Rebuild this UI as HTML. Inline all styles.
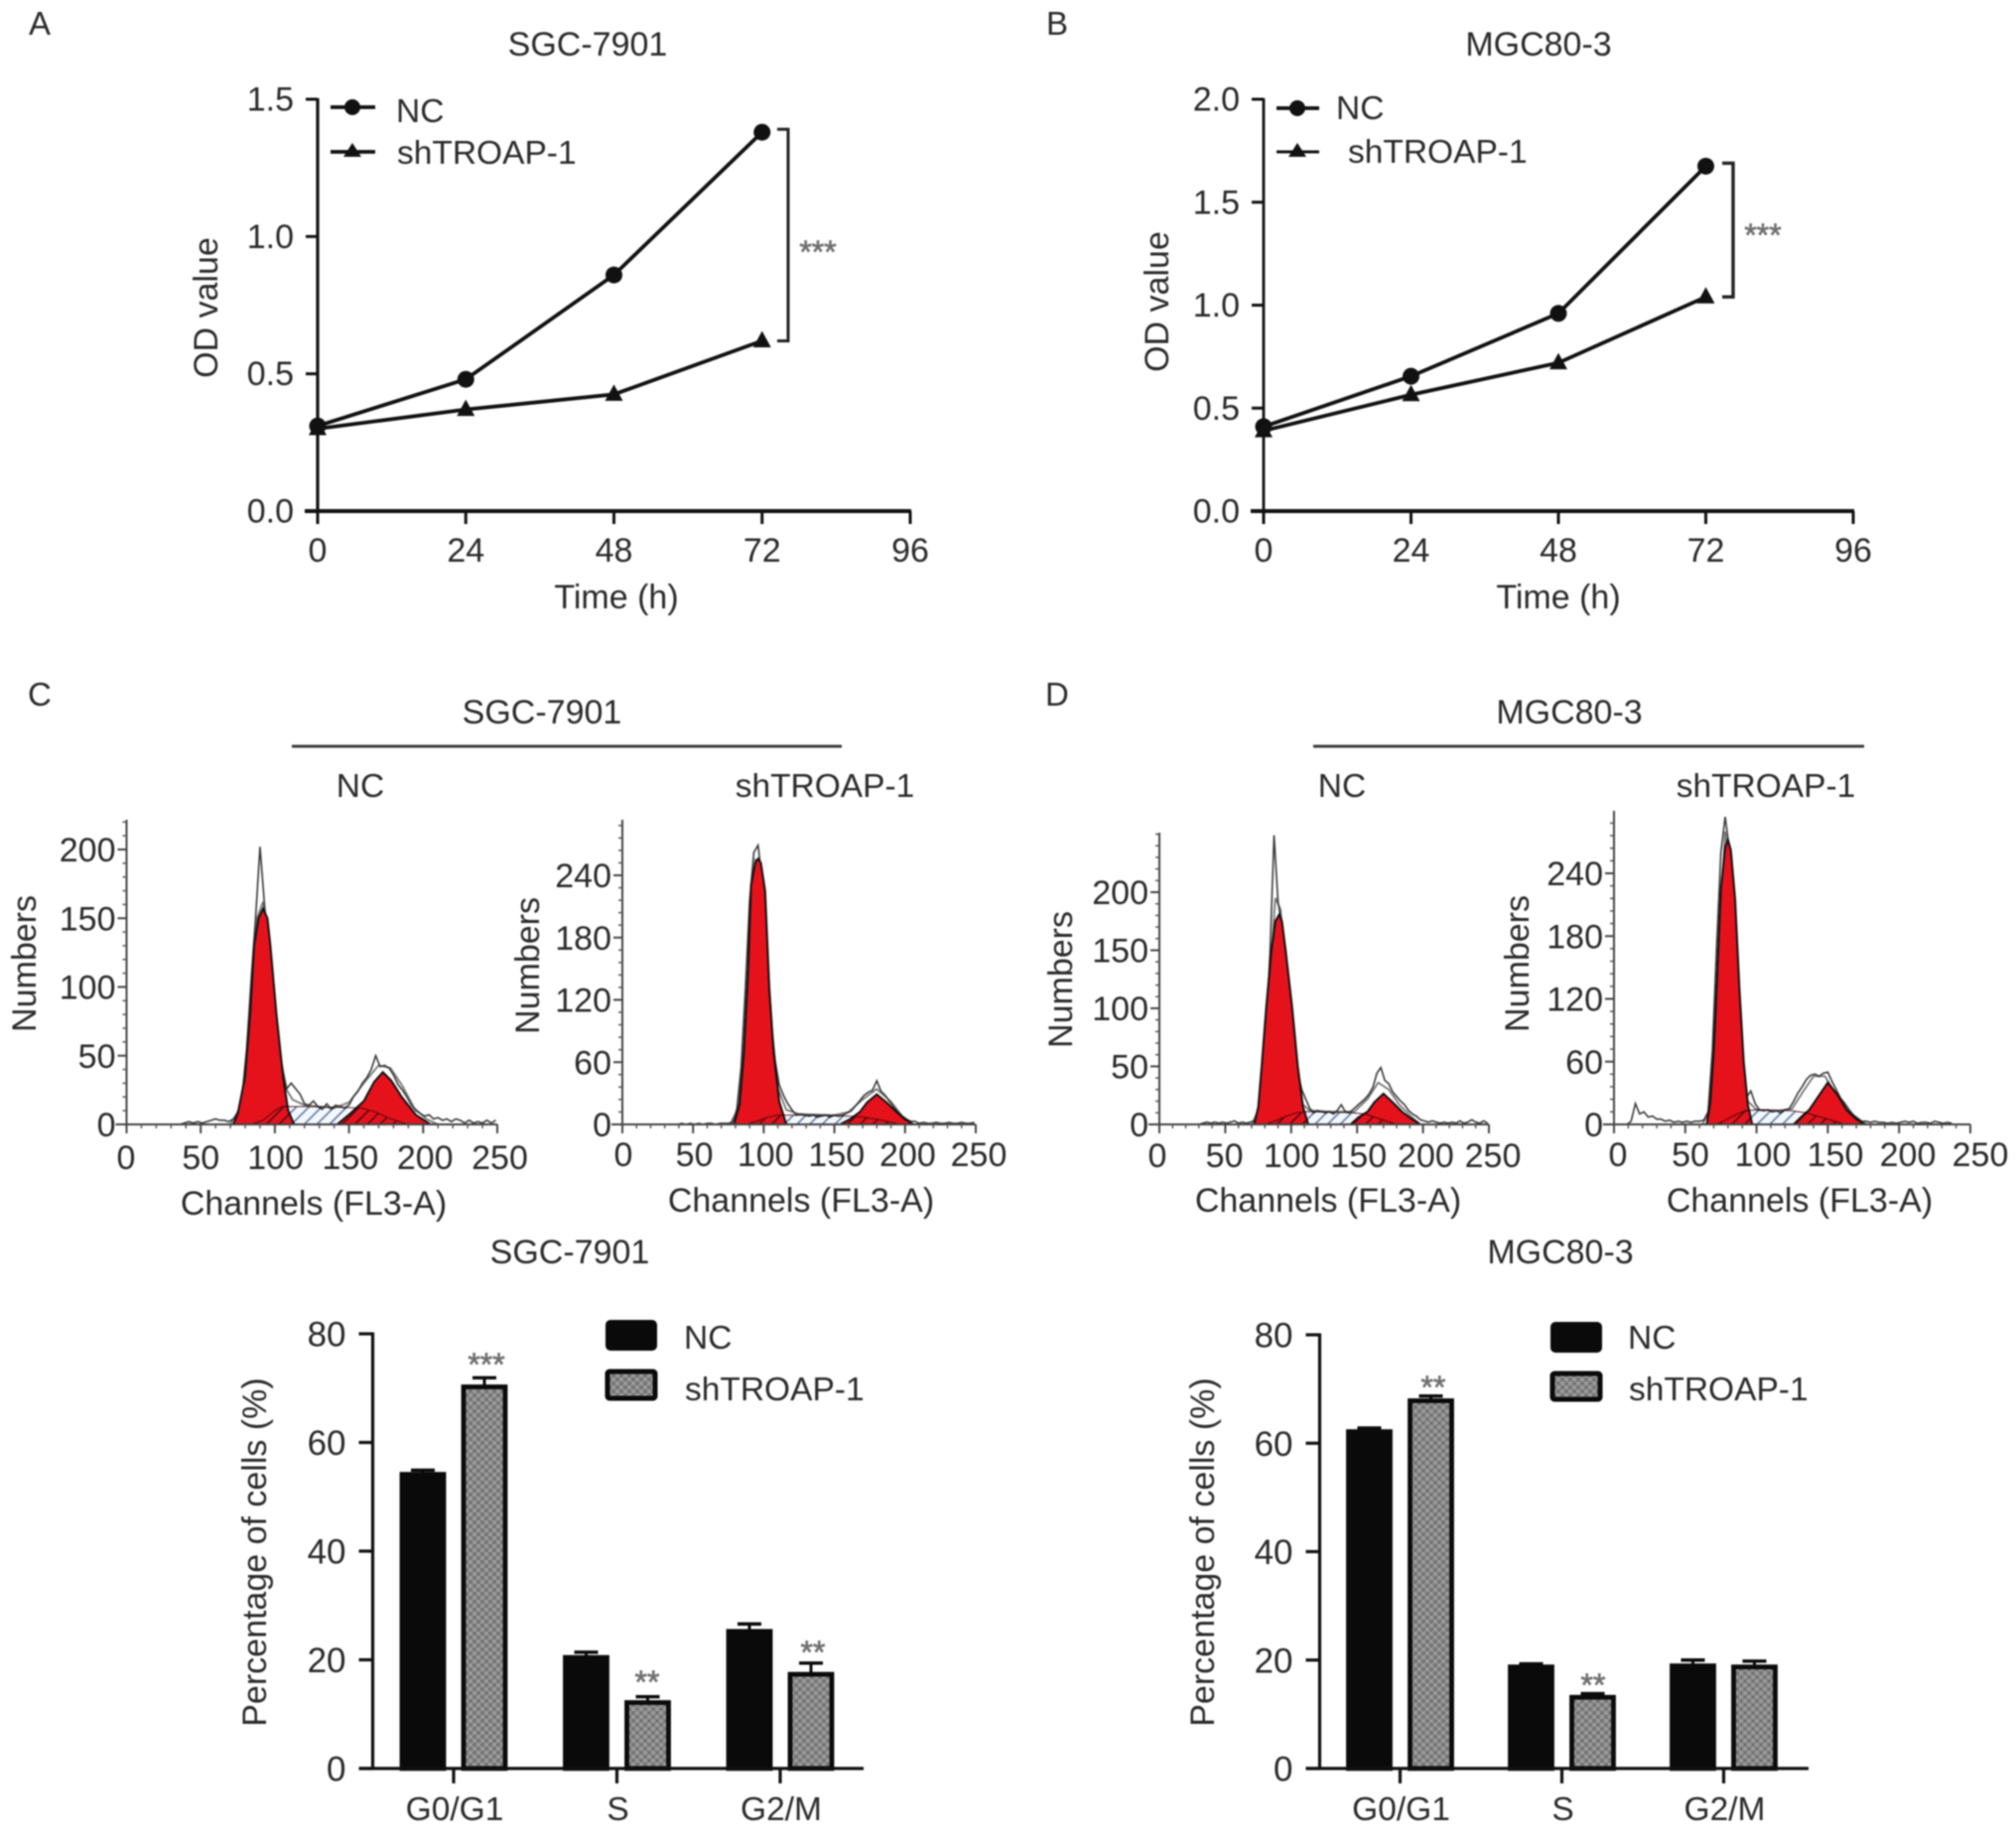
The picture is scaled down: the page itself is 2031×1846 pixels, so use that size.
<!DOCTYPE html>
<html lang="en">
<head>
<meta charset="utf-8">
<title>TROAP knockdown: growth curves and cell cycle</title>
<style>
html,body{margin:0;padding:0;background:#fff;}
#figure{display:block;filter:blur(0.7px);}
text{font-family:"Liberation Sans",sans-serif;fill:#2a2a2a;font-size:33.5px;}
.big{font-size:34px;}
.panel{font-size:33px;}
.stars{fill:#707070;stroke:#707070;stroke-width:0.7;font-size:32px;}
.mid{text-anchor:middle;}
</style>
</head>
<body>
<svg id="figure" xmlns="http://www.w3.org/2000/svg" width="2031" height="1846" viewBox="0 0 2031 1846">
  <defs>
    <pattern id="checker" width="8" height="8" patternUnits="userSpaceOnUse">
      <rect width="8" height="8" fill="#9b9b9b"/>
      <rect width="4" height="4" fill="#757575"/>
      <rect x="4" y="4" width="4" height="4" fill="#757575"/>
    </pattern>
    <pattern id="s-hatch" width="9" height="9" patternUnits="userSpaceOnUse" patternTransform="rotate(-45)">
      <rect x="0" y="0" width="9" height="1.6" fill="#5f7fae"/>
    </pattern>
  </defs>
  <rect width="2031" height="1846" fill="#fff"/>

  <g>
    <text class="panel" x="29" y="35">A</text>
    <text class="panel" x="1054" y="35">B</text>
    <text class="panel" x="28" y="711">C</text>
    <text class="panel" x="1053" y="711">D</text>
  </g>

  <g>
    <text class="big mid" x="592" y="56">SGC-7901</text>
    <text class="big mid" transform="translate(219 310) rotate(-90)">OD value</text>
    <text class="big mid" x="621" y="613">Time (h)</text>
    <line x1="333" y1="108" x2="378" y2="108" stroke="#111" stroke-width="3.8"/>
    <circle cx="355" cy="108" r="8" fill="#111"/>
    <text x="399" y="123">NC</text>
    <line x1="333" y1="153" x2="378" y2="153" stroke="#111" stroke-width="3.8"/>
    <polygon points="355,144 364,158 346,158" fill="#111"/>
    <text x="400" y="165">shTROAP-1</text>
    <text class="stars mid" x="824" y="265">***</text>
  </g>

  <g>
    <text class="big mid" x="1550" y="56">MGC80-3</text>
    <text class="big mid" transform="translate(1177 304) rotate(-90)">OD value</text>
    <text class="big mid" x="1570" y="613">Time (h)</text>
    <line x1="1286" y1="109" x2="1329" y2="109" stroke="#111" stroke-width="3.8"/>
    <circle cx="1307" cy="109" r="8" fill="#111"/>
    <text x="1346" y="120">NC</text>
    <line x1="1286" y1="153" x2="1329" y2="153" stroke="#111" stroke-width="3"/>
    <polygon points="1307,144 1316,158 1298,158" fill="#111"/>
    <text x="1358" y="164">shTROAP-1</text>
    <text class="stars mid" x="1776" y="248">***</text>
  </g>

  <g>
    <text class="big mid" x="546" y="729">SGC-7901</text>
    <line x1="294" y1="752" x2="848" y2="752" stroke="#3c3c3c" stroke-width="3"/>
    <text class="mid" x="363" y="803">NC</text>
    <text class="mid" x="831" y="803">shTROAP-1</text>
    <text class="big mid" transform="translate(36 971) rotate(-90)">Numbers</text>
    <text class="big mid" transform="translate(543 973) rotate(-90)">Numbers</text>
    <text class="big mid" x="316" y="1224">Channels (FL3-A)</text>
    <text class="big mid" x="807" y="1221">Channels (FL3-A)</text>
  </g>

  <g>
    <text class="big mid" x="1581" y="729">MGC80-3</text>
    <line x1="1323" y1="752" x2="1878" y2="752" stroke="#3c3c3c" stroke-width="3"/>
    <text class="mid" x="1352" y="803">NC</text>
    <text class="mid" x="1779" y="803">shTROAP-1</text>
    <text class="big mid" transform="translate(1080 987) rotate(-90)">Numbers</text>
    <text class="big mid" transform="translate(1540 971) rotate(-90)">Numbers</text>
    <text class="big mid" x="1338" y="1221">Channels (FL3-A)</text>
    <text class="big mid" x="1813" y="1221">Channels (FL3-A)</text>
  </g>

  <g>
    <text class="big mid" x="574" y="1273">SGC-7901</text>
    <text class="big mid" transform="translate(268 1564) rotate(-90)">Percentage of cells (%)</text>
    <rect x="612" y="1332" width="48" height="27" rx="3" fill="#0a0a0a" stroke="#0a0a0a" stroke-width="4"/>
    <text x="689" y="1359">NC</text>
    <rect x="612" y="1382" width="48" height="27" rx="2" fill="url(#checker)" stroke="#0a0a0a" stroke-width="5"/>
    <text x="690" y="1411">shTROAP-1</text>
    <text class="stars mid" x="490" y="1386">***</text>
    <text class="stars mid" x="652" y="1706">**</text>
    <text class="stars mid" x="819" y="1676">**</text>
  </g>

  <g>
    <text class="big mid" x="1572" y="1273">MGC80-3</text>
    <text class="big mid" transform="translate(1223 1564) rotate(-90)">Percentage of cells (%)</text>
    <rect x="1564" y="1334" width="48" height="27" rx="3" fill="#0a0a0a" stroke="#0a0a0a" stroke-width="4"/>
    <text x="1640" y="1359">NC</text>
    <rect x="1564" y="1384" width="48" height="26" rx="2" fill="url(#checker)" stroke="#0a0a0a" stroke-width="5"/>
    <text x="1641" y="1411">shTROAP-1</text>
    <text class="stars mid" x="1444" y="1409">**</text>
    <text class="stars mid" x="1605" y="1709">**</text>
  </g>
</svg>

<script>
// ---- Growth curves (panels A, B) ----
const timePoints = [0, 24, 48, 72];
const timeTicks = [0, 24, 48, 72, 96];
const panelAYTicks = [0, 0.5, 1, 1.5];
const panelBYTicks = [0, 0.5, 1, 1.5, 2];
const panelANc = [0.31, 0.48, 0.86, 1.38];
const panelASh = [0.30, 0.37, 0.425, 0.62];
const panelBNc = [0.41, 0.655, 0.96, 1.675];
const panelBSh = [0.39, 0.565, 0.72, 1.04];

// ---- Cell cycle bars ----
const phaseCategories = ['G0/G1', 'S', 'G2/M'];
const percentTicks = [0, 20, 40, 60, 80];
const sgcNc = [54.5, 20.8, 25.6];
const sgcNcErr = [0.4, 0.6, 1.0];
const sgcSh = [70.6, 12.5, 17.7];
const sgcShErr = [1.3, 0.7, 1.7];
const mgcNc = [62.5, 19.1, 19.3];
const mgcNcErr = [0.3, 0.2, 0.7];
const mgcSh = [68.2, 13.5, 19.1];
const mgcShErr = [0.5, 0.3, 0.7];

// ---- Flow cytometry histograms ----
const channelTicks = [0, 50, 100, 150, 200, 250];
const numbersTicks50 = [0, 50, 100, 150, 200];
const numbersTicks60 = [0, 60, 120, 180, 240];
const traceBinWidth = 3;

// panel C, NC
const c1Trace = [0,0,0,0,0,0,0,0,0,0,0,0,0,1,2,1,2,1,2,3,4,3,3,2,4,8,22,55,105,150,202,160,128,92,66,40,26,30,26,22,15,14,17,13,11,15,11,14,13,12,14,20,24,30,34,40,50,42,43,41,36,29,25,20,14,10,8,6,7,4,5,3,4,2,4,3,1,3,1,2,1,3,1,3];
const c1FitChannels = [70,78,84,88,92,96,100,104,108,112,120,140,150,160,170,178,186,194,202,210];
const c1FitCounts = [0,15,90,150,162,135,88,48,25,18,14,12,16,30,43,41,28,12,4,0];
const c1G1Channels = [72,75,79.8,83.4,86,89,92,95,97,101,105.6,109,113];
const c1G1Counts = [0,8,34,81,130,150,157,150,130,81,34,10,0];
const c1SChannels = [84,92,100,105,120,140,158,168,176,184,190];
const c1SCounts = [0,3,10,13,13,12.5,12,9,5,2,0];
const c1G2Channels = [142,151,160,167,172.8,178.4,185.5,195,205];
const c1G2Counts = [0,8,17,31,38,32,20,7,0];

// panel C, shTROAP-1
const c2Trace = [0,0,0,0,0,0,0,0,0,0,0,0,0,0,1,0,1,0,1,0,1,1,0,1,1,1,2,15,55,130,215,262,269,235,165,100,62,38,28,20,14,9,10,9,8,9,7,8,9,7,9,8,9,11,13,18,23,28,31,33,42,32,28,22,17,12,8,5,3,3,1,2,1,1,2,1,1,2,1,1,2,1,1,2];
const c2FitChannels = [76,82,86,90,94,98,102,106,110,116,125,150,160,170,180,190,198,206];
const c2FitCounts = [0,15,75,170,255,250,175,90,35,14,10,9,12,24,34,22,8,0];
const c2G1Channels = [79,83,86,89,91,94,96,98,101,104,107,111,116];
const c2G1Counts = [0,20,70,150,230,252,256,252,225,130,70,22,0];
const c2SChannels = [88,95,103,110,125,145,160,170,180,190,196];
const c2SCounts = [0,3,7,9,9,8.5,8,7,5,2,0];
const c2G2Channels = [154,161,168,173,180,187,194,200,206];
const c2G2Counts = [0,5,12,21,29,21,12,5,0];

// panel D, NC
const d1Trace = [0,0,0,0,0,0,0,0,0,0,0,1,2,1,2,1,2,1,2,3,1,2,1,2,3,8,30,80,150,249,192,170,125,82,48,45,30,22,14,10,12,11,10,11,9,12,17,11,10,13,16,19,22,26,32,44,49,38,35,28,24,20,17,12,9,7,4,3,2,3,2,1,2,1,2,1,3,1,2,4,2,1,3,1];
const d1FitChannels = [70,76,80,84,88,92,96,100,104,108,114,130,148,158,166,174,182,190,198];
const d1FitCounts = [0,15,60,130,195,185,135,75,35,18,12,11,11,22,36,30,17,8,0];
const d1G1Channels = [72,75,77.6,81,85,88,91,93,95.8,100.8,105,109,113];
const d1G1Counts = [0,15,50,100,150,175,181,175,150,100,50,15,0];
const d1SChannels = [80,88,96,104,112,130,146,156,164,172,180];
const d1SCounts = [0,3,7,10,11,10.5,10,9,6,3,0];
const d1G2Channels = [145,151,158,163,170,177,184,191,198];
const d1G2Counts = [0,6,11,19,26.5,19,11,5,0];

// panel D, shTROAP-1
const d2Trace = [0,0,0,0,3,20,10,12,7,8,5,5,3,4,2,3,2,3,2,3,3,4,12,70,170,260,294,262,185,105,50,26,32,20,14,13,14,12,13,11,14,15,22,30,36,43,47,48,46,49,50,41,33,25,20,14,9,6,3,3,2,3,2,2,1,2,1,2,3,2,3,1,2,2,1,3,2,1,2,1];
const d2FitChannels = [62,66,70,74,78,82,86,90,94,100,115,125,132,140,148,156,164,172,178];
const d2FitCounts = [0,10,70,180,280,240,130,50,22,14,13,15,30,46,46,28,14,4,0];
const d2G1Channels = [65,67.5,70,72,75,78,80,82,85,88,91,94,97];
const d2G1Counts = [0,20,70,130,225,265,272,262,215,130,60,18,0];
const d2SChannels = [72,78,85,92,100,115,125,135,145,155,162];
const d2SCounts = [0,4,9,13,14,13.5,13,11,7,3,0];
const d2G2Channels = [126,132,137,142,150,157,163,170,176];
const d2G2Counts = [0,8,14,24,40,28,14,5,0];

const NS = 'http://www.w3.org/2000/svg';
const figure = document.getElementById('figure');

function make(tag, attrs, parent) {
  const node = document.createElementNS(NS, tag);
  for (const key in attrs) node.setAttribute(key, attrs[key]);
  parent.appendChild(node);
  return node;
}
function linearScale(d0, d1, r0, r1) {
  return function (v) { return r0 + (v - d0) * (r1 - r0) / (d1 - d0); };
}

function drawLineChart(prefix, box, yTicks, decimals, nc, sh) {
  const g = make('g', {}, figure);
  
  
  const xS = linearScale(0, 96, box.x0, box.x1);
  const yS = linearScale(0, yTicks[yTicks.length - 1], box.y0, box.y1);

  const yAxis = make('line', {x1: box.x0, y1: box.y1 - 1, x2: box.x0, y2: box.y0 + 2, stroke: '#111', 'stroke-width': box.yw}, g);
  
  
  const xAxis = make('line', {x1: box.x0 - 13, y1: box.y0, x2: box.x1 + 1, y2: box.y0, stroke: '#111', 'stroke-width': 4}, g);
  
  

  yTicks.forEach(function (v) {
    const tick = make('line', {x1: box.x0 - 12, y1: yS(v), x2: box.x0, y2: yS(v), stroke: '#111', 'stroke-width': 3}, g);
    
    
    const label = make('text', {x: box.x0 - 24, y: yS(v) + 11.5, 'text-anchor': 'end', style: 'font-size:34px'}, g);
    
    
    label.textContent = v.toFixed(decimals);
  });
  timeTicks.forEach(function (v) {
    const tick = make('line', {x1: xS(v), y1: box.y0, x2: xS(v), y2: box.y0 + 13, stroke: '#111', 'stroke-width': 3}, g);
    
    
    const label = make('text', {x: xS(v), y: 566, 'text-anchor': 'middle', style: 'font-size:34px'}, g);
    
    
    label.textContent = v;
  });

  const ncLine = make('polyline', {points: timePoints.map(function (t, i) { return xS(t) + ',' + yS(nc[i]); }).join(' '), fill: 'none', stroke: '#111', 'stroke-width': 3.8}, g);
  
  
  const shLine = make('polyline', {points: timePoints.map(function (t, i) { return xS(t) + ',' + yS(sh[i]); }).join(' '), fill: 'none', stroke: '#111', 'stroke-width': 3.8}, g);
  
  

  timePoints.forEach(function (t, i) {
    const dot = make('circle', {cx: xS(t), cy: yS(nc[i]), r: 8.5, fill: '#111'}, g);
    
    
    const px = xS(t), py = yS(sh[i]);
    const tri = make('polygon', {points: px + ',' + (py - 10) + ' ' + (px + 9) + ',' + (py + 6.5) + ' ' + (px - 9) + ',' + (py + 6.5), fill: '#111'}, g);
    
    
  });

  const bx = box.bracketX;
  const bracket = make('polyline', {points: (bx - 11) + ',' + (yS(nc[3]) - 3) + ' ' + bx + ',' + (yS(nc[3]) - 3) + ' ' + bx + ',' + yS(sh[3]) + ' ' + (bx - 11) + ',' + yS(sh[3]), fill: 'none', stroke: '#222', 'stroke-width': box.bw}, g);
  
  
}

function drawBars(prefix, box, nc, ncErr, sh, shErr) {
  const g = make('g', {}, figure);
  
  
  const yS = linearScale(0, 80, box.y0, box.y1);
  const xCenter = function (i) { return box.firstX + i * box.step; };

  const drawSeries = function (series, errs, offset, fill, name) {
    phaseCategories.forEach(function (cat, i) {
      const cx = xCenter(i) + offset;
      const top = yS(series[i]);
      const errTop = yS(series[i] + errs[i]);
      const stem = make('line', {x1: cx, y1: errTop, x2: cx, y2: top, stroke: '#0a0a0a', 'stroke-width': 3}, g);
      
      
      const cap = make('line', {x1: cx - 12, y1: errTop, x2: cx + 12, y2: errTop, stroke: '#0a0a0a', 'stroke-width': 3.4}, g);
      
      
      const bar = make('rect', {x: cx - 21, y: top + 2, width: 42, height: box.y0 - top - 2, fill: fill, stroke: '#0a0a0a', 'stroke-width': 4.8}, g);
      
      
    });
  };
  drawSeries(nc, ncErr, -31, '#0a0a0a', 'nc');
  drawSeries(sh, shErr, 31, 'url(#checker)', 'sh');

  const yAxis = make('line', {x1: box.x0, y1: box.y1 - 1.5, x2: box.x0, y2: box.y0, stroke: '#111', 'stroke-width': 3.2}, g);
  
  
  const xAxis = make('line', {x1: box.x0 - 14, y1: box.y0, x2: box.x1, y2: box.y0, stroke: '#111', 'stroke-width': 3.2}, g);
  
  

  percentTicks.forEach(function (v) {
    const tick = make('line', {x1: box.x0 - 14, y1: yS(v), x2: box.x0, y2: yS(v), stroke: '#111', 'stroke-width': 3.2}, g);
    
    
    const label = make('text', {x: box.x0 - 27, y: yS(v) + 12.5, 'text-anchor': 'end', style: 'font-size:35px'}, g);
    
    
    label.textContent = v;
  });
  phaseCategories.forEach(function (cat, i) {
    const tick = make('line', {x1: xCenter(i), y1: box.y0, x2: xCenter(i), y2: box.y0 + 15, stroke: '#111', 'stroke-width': 3.2}, g);
    
    
    const label = make('text', {x: xCenter(i) + 1, y: 1834, 'text-anchor': 'middle'}, g);
    
    
    label.textContent = cat;
  });
}

function drawHistogram(prefix, box, yTicks, minorStep, d) {
  const g = make('g', {}, figure);
  
  
  const topTick = yTicks[yTicks.length - 1];
  const xS = linearScale(0, 250, box.x0, box.x1);
  const yS = linearScale(0, topTick, box.y0, box.yTickTop);
  const labelX = linearScale(0, 250, box.labelX0, box.labelX1);
  const points = function (chs, counts) {
    return chs.map(function (c, i) { return xS(c) + ',' + yS(counts[i]); }).join(' ');
  };

  const sBase = make('polygon', {points: points(d.sCh, d.sCt), fill: '#f4f7fb', stroke: 'none'}, g);
  
  

  const fit = make('polyline', {points: points(d.fitCh, d.fitCt), fill: 'none', stroke: '#777', 'stroke-width': 1.8}, g);
  
  
  const trace = make('polyline', {points: d.trace.map(function (v, i) { return xS(i * traceBinWidth) + ',' + yS(v); }).join(' '), fill: 'none', stroke: '#3a3a3a', 'stroke-width': 1.6}, g);
  
  

  const g1 = make('polygon', {points: points(d.g1Ch, d.g1Ct), fill: '#e5121c', stroke: '#111', 'stroke-width': 2}, g);
  
  
  const g2 = make('polygon', {points: points(d.g2Ch, d.g2Ct), fill: '#e5121c', stroke: '#111', 'stroke-width': 2}, g);
  
  
  const sHatch = make('polygon', {points: points(d.sCh, d.sCt), fill: 'url(#s-hatch)', stroke: '#5a2226', 'stroke-width': 1, style: 'mix-blend-mode:multiply'}, g);
  
  

  const yAxis = make('line', {x1: box.x0, y1: box.yTop, x2: box.x0, y2: box.y0, stroke: '#444', 'stroke-width': 2}, g);
  
  
  const xAxis = make('line', {x1: box.x0 - 11, y1: box.y0, x2: box.x1, y2: box.y0, stroke: '#444', 'stroke-width': 2}, g);
  
  

  for (let v = minorStep; yS(v) >= box.yTop; v += minorStep) {
    const minor = make('line', {x1: box.x0 - 4, y1: yS(v), x2: box.x0, y2: yS(v), stroke: '#555', 'stroke-width': 1.5}, g);
    
    
  }
  for (let c = 10; c < 250; c += 10) {
    const minor = make('line', {x1: xS(c), y1: box.y0, x2: xS(c), y2: box.y0 + 4, stroke: '#555', 'stroke-width': 1.5}, g);
    
    
  }
  yTicks.forEach(function (v) {
    const tick = make('line', {x1: box.x0 - 9, y1: yS(v), x2: box.x0, y2: yS(v), stroke: '#444', 'stroke-width': 2}, g);
    
    
    const label = make('text', {x: box.x0 - 11, y: yS(v) + 12, 'text-anchor': 'end', style: 'font-size:34px'}, g);
    
    
    label.textContent = v;
  });
  channelTicks.forEach(function (v) {
    const tick = make('line', {x1: xS(v), y1: box.y0, x2: xS(v), y2: box.y0 + 9, stroke: '#444', 'stroke-width': 2}, g);
    
    
    const label = make('text', {x: labelX(v), y: box.labelY, 'text-anchor': 'middle', style: 'font-size:34px'}, g);
    
    
    label.textContent = v;
  });
}

drawLineChart('panel-a', {x0: 320, x1: 917, y0: 515, y1: 100, yw: 3.2, bracketX: 794, bw: 3}, panelAYTicks, 1, panelANc, panelASh);
drawLineChart('panel-b', {x0: 1273, x1: 1867, y0: 515, y1: 100, yw: 2.8, bracketX: 1746, bw: 3.4}, panelBYTicks, 1, panelBNc, panelBSh);

drawHistogram('panel-c-nc', {x0: 127.5, x1: 501, y0: 1133, yTickTop: 856, yTop: 826, labelX0: 127, labelX1: 503.5, labelY: 1178}, numbersTicks50, 10,
  {trace: c1Trace, fitCh: c1FitChannels, fitCt: c1FitCounts, g1Ch: c1G1Channels, g1Ct: c1G1Counts, sCh: c1SChannels, sCt: c1SCounts, g2Ch: c1G2Channels, g2Ct: c1G2Counts});
drawHistogram('panel-c-sh', {x0: 627, x1: 983, y0: 1133, yTickTop: 882, yTop: 826, labelX0: 628, labelX1: 986, labelY: 1175}, numbersTicks60, 12,
  {trace: c2Trace, fitCh: c2FitChannels, fitCt: c2FitCounts, g1Ch: c2G1Channels, g1Ct: c2G1Counts, sCh: c2SChannels, sCt: c2SCounts, g2Ch: c2G2Channels, g2Ct: c2G2Counts});
drawHistogram('panel-d-nc', {x0: 1168, x1: 1500, y0: 1133, yTickTop: 899, yTop: 839, labelX0: 1166, labelX1: 1504, labelY: 1176}, numbersTicks50, 10,
  {trace: d1Trace, fitCh: d1FitChannels, fitCt: d1FitCounts, g1Ch: d1G1Channels, g1Ct: d1G1Counts, sCh: d1SChannels, sCt: d1SCounts, g2Ch: d1G2Channels, g2Ct: d1G2Counts});
drawHistogram('panel-d-sh', {x0: 1626, x1: 1985, y0: 1133, yTickTop: 880, yTop: 817, labelX0: 1630, labelX1: 1995, labelY: 1175}, numbersTicks60, 12,
  {trace: d2Trace, fitCh: d2FitChannels, fitCt: d2FitCounts, g1Ch: d2G1Channels, g1Ct: d2G1Counts, sCh: d2SChannels, sCt: d2SCounts, g2Ch: d2G2Channels, g2Ct: d2G2Counts});

drawBars('sgc', {x0: 375.5, x1: 870, y0: 1782, y1: 1344, firstX: 457, step: 164.5}, sgcNc, sgcNcErr, sgcSh, sgcShErr);
drawBars('mgc', {x0: 1329.5, x1: 1822, y0: 1782, y1: 1345, firstX: 1410.5, step: 163}, mgcNc, mgcNcErr, mgcSh, mgcShErr);
</script>
</body>
</html>
